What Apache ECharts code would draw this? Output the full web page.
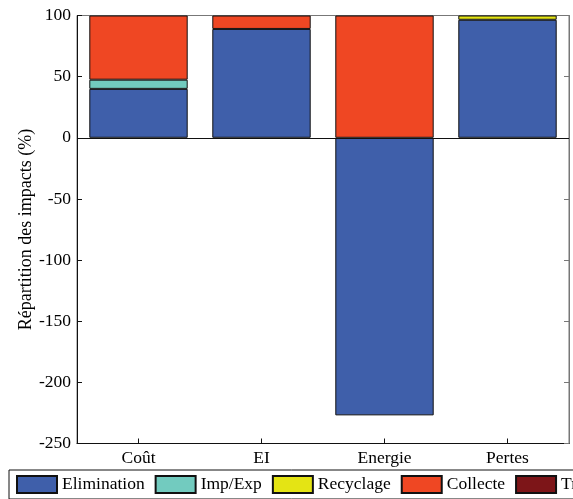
<!DOCTYPE html>
<html>
<head>
<meta charset="utf-8">
<script src="https://cdn.jsdelivr.net/npm/echarts@6/dist/echarts.min.js"></script>
<style>
  html, body { margin: 0; padding: 0; background: #fff; }
  #chart { width: 573px; height: 499px; }
</style>
</head>
<body>
<div id="chart"></div>
<script>
// Impact shares per indicator, stacked by life-cycle stage (%)
const categories = ['Coût', 'EI', 'Energie', 'Pertes'];
const elimination = [40, 89, -227, 96.5];
const impExp      = [7.5, null, null, null];
const recyclage   = [null, null, null, 3.5];
const collecte    = [52.5, 11, 100, null];
const transport   = [null, null, null, null];
const yTicks = { min: -250, max: 100, step: 50 };

const FONT = 'Liberation Serif';
const FS = 17.5;

function stackBar(name, data, color) {
  return {
    name: name,
    type: 'bar',
    stack: 'total',
    data: data,
    barWidth: '80%',
    itemStyle: { color: color, borderColor: '#111', borderWidth: 1 },
    emphasis: { disabled: true }
  };
}

const series = [
  stackBar('Elimination', elimination, '#3F5FAA'),
  stackBar('Imp/Exp', impExp, '#72CBBF'),
  stackBar('Recyclage', recyclage, '#E4E414'),
  stackBar('Collecte', collecte, '#EF4723'),
  stackBar('Transport', transport, '#7D1518')
];
// baseline at zero across the whole plot
series[0].markLine = {
  silent: true,
  symbol: 'none',
  label: { show: false },
  lineStyle: { color: '#111', width: 1, type: 'solid' },
  data: [{ yAxis: 0 }]
};

const chart = echarts.init(document.getElementById('chart'), null, { renderer: 'canvas' });
chart.setOption({
  animation: false,
  textStyle: { fontFamily: FONT },
  grid: {
    left: 77, right: 4, top: 15.5, bottom: 55.5,
    show: true, borderColor: '#777', borderWidth: 1, backgroundColor: 'transparent'
  },
  legend: {
    left: 9, top: 470,
    width: 2000,
    orient: 'horizontal',
    icon: 'rect',
    padding: [5, 6, 5, 7],
    itemGap: 10,
    itemWidth: 40,
    itemHeight: 17,
    borderColor: '#111',
    borderWidth: 1,
    textStyle: { fontFamily: FONT, fontSize: FS, color: '#000' },
    data: series.map(s => s.name)
  },
  xAxis: {
    type: 'category',
    data: categories,
    axisLine: { show: true, onZero: false, lineStyle: { color: '#111', width: 1 } },
    axisTick: { show: true, inside: true, length: 5, alignWithLabel: true, lineStyle: { color: '#111' } },
    axisLabel: { fontFamily: FONT, fontSize: FS, color: '#000', margin: 6 },
    splitLine: { show: false }
  },
  yAxis: [{
    type: 'value',
    min: yTicks.min, max: yTicks.max, interval: yTicks.step,
    name: 'Répartition des impacts (%)',
    nameLocation: 'middle',
    nameGap: 42,
    nameMoveOverlap: false,
    nameTextStyle: { fontFamily: FONT, fontSize: 18, color: '#000' },
    axisLine: { show: true, lineStyle: { color: '#111', width: 1 } },
    axisTick: { show: true, inside: true, length: 5, lineStyle: { color: '#111' } },
    axisLabel: { fontFamily: FONT, fontSize: FS, color: '#000', margin: 6 },
    splitLine: { show: false }
  }, {
    type: 'value',
    position: 'right',
    min: yTicks.min, max: yTicks.max, interval: yTicks.step,
    axisLine: { show: true, lineStyle: { color: '#777', width: 1 } },
    axisTick: { show: true, inside: true, length: 5, lineStyle: { color: '#777' } },
    axisLabel: { show: false },
    splitLine: { show: false }
  }],
  series: series
});
</script>
</body>
</html>
